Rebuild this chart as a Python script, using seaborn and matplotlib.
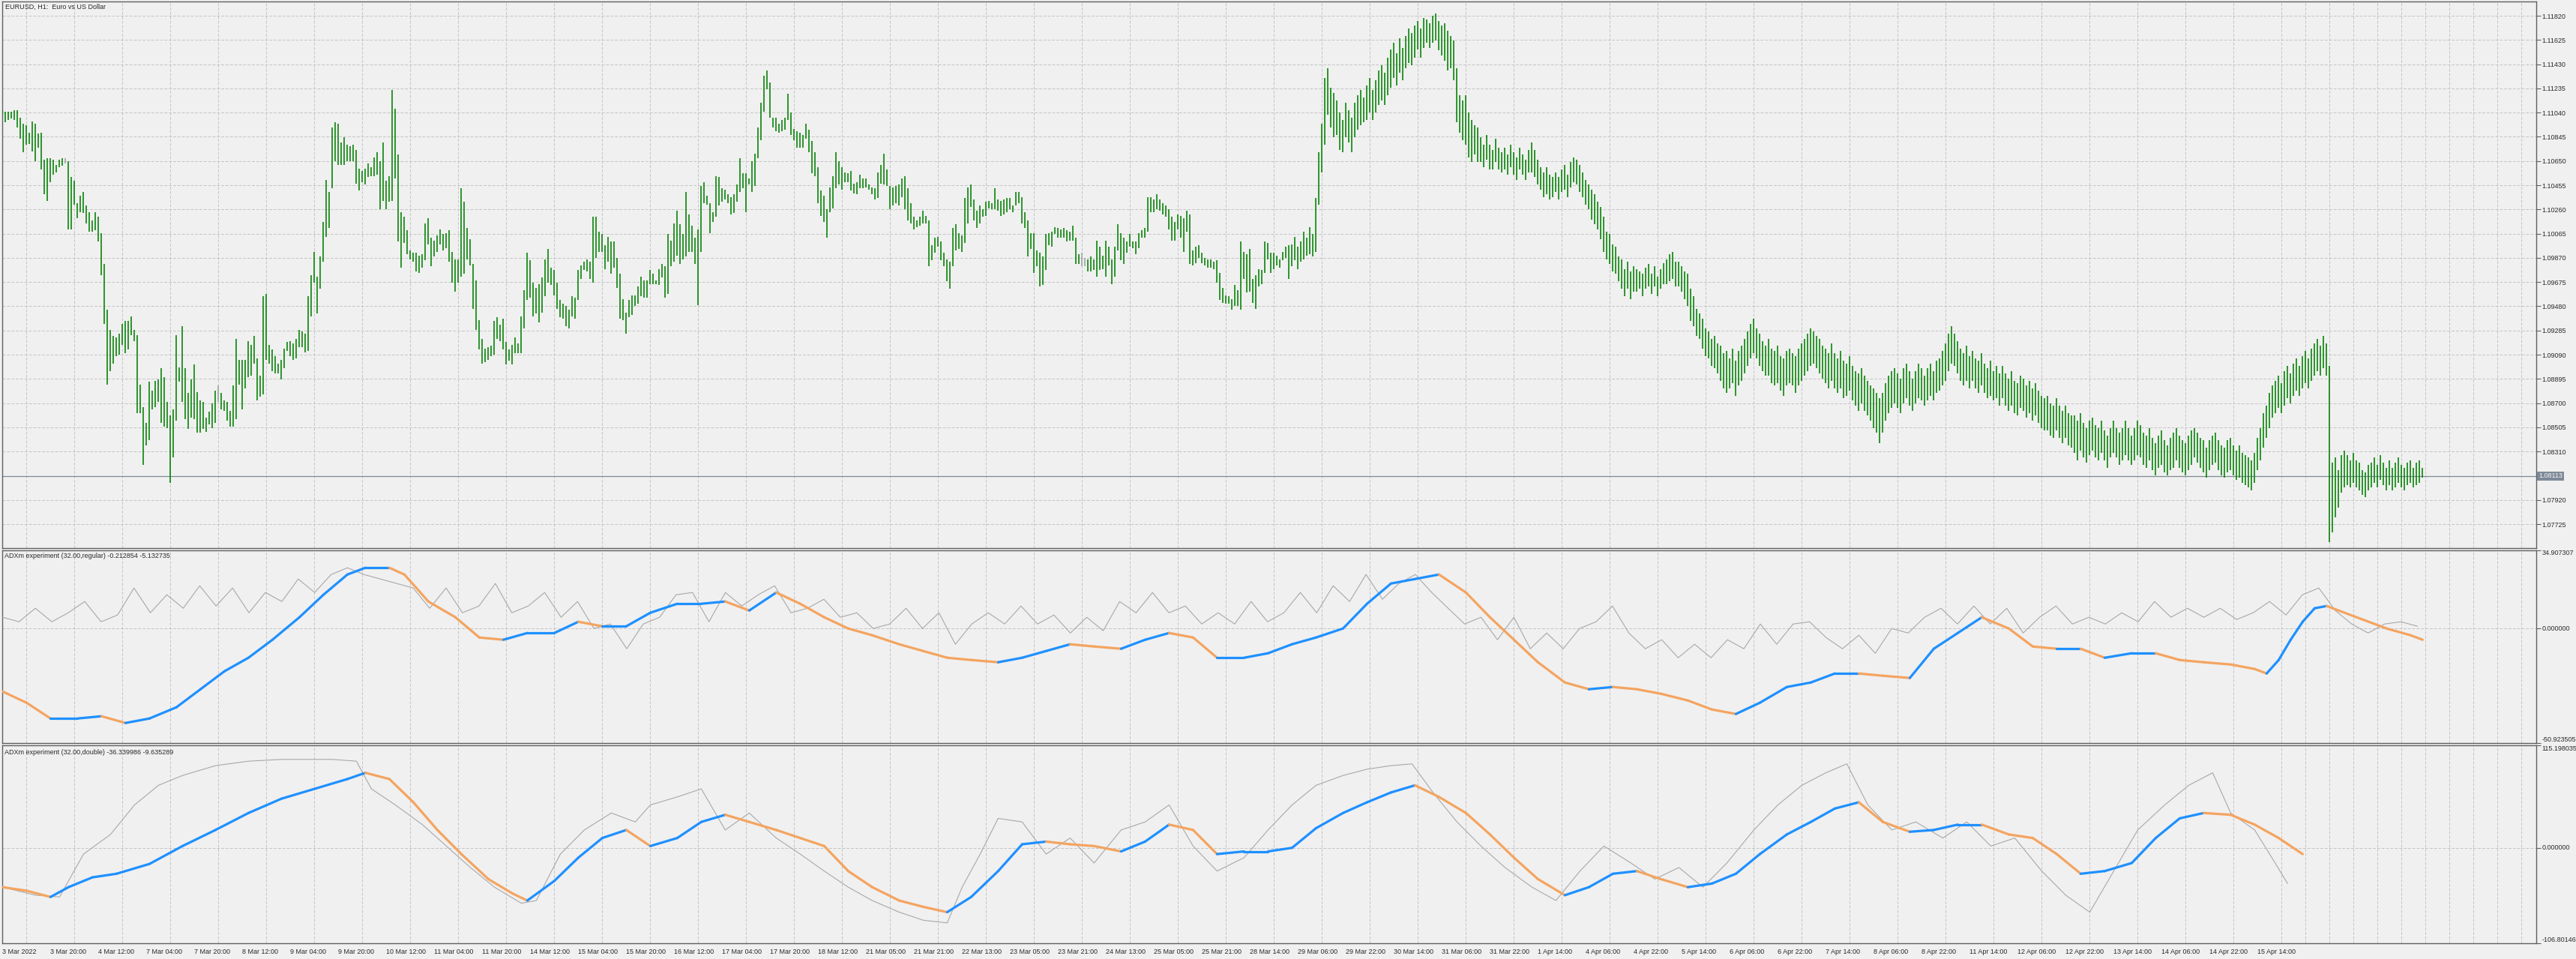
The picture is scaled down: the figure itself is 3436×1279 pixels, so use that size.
import numpy as np
import pandas as pd
import matplotlib
matplotlib.use("Agg")
import matplotlib.pyplot as plt
from matplotlib.collections import LineCollection
from matplotlib.transforms import blended_transform_factory
import seaborn as sns

# ---------------- data ----------------
PIP_BASE = 1.07  # bar highs / lows below are in pips above 1.0700

high_w1 = [406,405,405,405,406,406,400,395,394,388, 397,395,387,388,366,367,367,366,362,366,
           367,367,365,352,349,331,337,340,329,324, 317,324,320,307,282,245,229,224,223,226,
           234,236,236,240,229,225,185,167,154,187, 180,188,189,198,191,171,160,165,225,199,
           232,198,178,189,201,179,172,171,158,163, 170,180,184,178,172,171,164,184,222,205,
           205,205,220,217,224,206,192,256,258,217, 213,208,202,205,214,219,220,218,222,229,
           228,226,256,273,292,272,288]
low_w1 = [402,396,398,399,398,392,383,372,378,379, 373,365,376,358,338,333,348,354,356,360,
          361,363,310,310,330,319,324,323,315,308, 308,309,300,273,234,185,196,202,208,209,
          217,210,213,225,220,162,162,120,136,140, 165,167,171,154,151,150,106,126,156,187,
          171,157,149,158,157,146,146,149,147,153, 150,154,171,165,164,156,151,151,157,185,
          165,182,191,192,202,172,175,177,205,202, 196,194,194,189,198,212,208,205,206,215,
          215,211,212,240,267,242,262]
high_w2 = [316,350,340,392,396,395,380,384,378,377, 378,374,359,357,359,363,360,368,372,365,
           380,349,353,422,407,370,324,320,309,293, 291,291,289,290,315,319,303,301,305,310,
           306,307,309,292,286,286,343,332,311,302, 282,269,237,222,214,215,216,236,239,233,
           238,219,213,217,223,218,240,261,291,285, 267,263,266,271,286,294,279,277,267,253,
           250,248,245,256,255,277,281,284,286,284, 320,320,308,306,297,304,300,300,287,274,
           254,243,253,257,257,264,272,269]
low_w2 = [284,304,311,343,365,362,362,362,365,365, 365,347,341,348,346,352,353,353,354,326,
          333,326,332,333,351,300,279,299,290,286, 284,276,275,279,285,298,280,288,292,298,
          293,295,284,267,260,267,272,274,286,281, 246,229,213,202,203,205,208,209,222,220,
          213,201,204,201,210,210,210,230,253,255, 240,242,235,243,256,267,265,257,246,239,
          238,232,230,240,238,253,270,277,276,270, 267,287,292,292,278,284,274,279,263,238,
          237,226,239,241,248,250,256,255]
high_w3 = [269,277,274,269,278,282,280,306,301,315, 325,314,306,340,322,313,303,310,345,348,
           337,331,324,353,352,343,342,338,336,338, 346,367,355,355,351,365,371,392,412,434,
           438,428,400,400,395,398,400,419,404,391, 389,388,386,395,390,381,372,360,341,337,
           326,344,353,372,365,360,356,355,357,347, 348,354,351,351,346,344,343,356,362,371,
           358,345,344,345,346,351,353,343,331,320, 317,320,325,321,317,297,303,304,300,291,
           286,284,311,314,307,305,335]
low_w3 = [255,266,266,266,265,271,255,258,280,284, 289,282,286,288,292,292,282,249,292,331,
          330,307,316,320,329,332,334,331,322,323, 332,340,343,324,346,340,345,367,382,405,
          423,400,392,389,388,389,390,398,386,382, 376,376,376,383,372,355,353,331,321,316,
          303,324,327,343,346,342,348,348,341,339, 338,343,343,344,342,338,334,335,347,346,
          345,326,329,331,329,336,326,317,315,310, 312,313,315,315,280,285,291,296,285,280,
          268,262,280,293,294,292,299]
high_w4 = [344,346,334,325,329,326,332,333,331,343, 334,333,334,335,335,329,340,340,336,324,
           317,307,307,293,291,288,306,307,308,312, 311,310,311,309,308,313,303,290,291,287,
           286,288,286,301,296,289,301,296,286,296, 314,307,303,300,306,300,300,307,309,311,
           336,336,334,338,334,331,329,326,320,316, 322,321,319,325,322,293,296,297,291,287,
           286,286,284,285,275,263,257,256,254,265, 261,300,292,290,294,270,273,278,277,300,
           299,291,291,289,286,292,296,297]
low_w4 = [315,328,317,311,315,320,321,327,326,326, 325,321,322,324,326,324,329,331,315,311,
          288,294,275,280,264,265,277,297,296,306, 303,303,303,300,301,301,282,282,280,280,
          276,276,277,272,277,278,272,281,266,272, 293,285,282,291,296,295,290,295,303,303,
          308,324,324,326,325,322,320,310,301,301, 310,303,292,308,282,281,283,287,283,281,
          279,279,278,267,253,251,250,250,245,248, 248,245,270,259,260,251,246,264,266,275,
          286,275,278,281,279,285,287,270]
high_w5 = [298,304,296,300,308,303,312,306, 335,372,395, 432,440,424,420,414,
           404,398,412,406,400,412,418,422,416, 426,432,422,430,438,442,436,448,
           455,460,452,464,456,466,472,468, 474,478,472,480,479,476, 482,484,478,474,
           476,470,466,462, 440,418,414, 418,404,398,394,392, 384,378,386,378,374,383,376,372,
           376,370,378,372,368,376,370,366,374, 380,374,366,360,356,360,354,352,
           356,352,358,362,354,364,368,366,362,356,350, 346]
low_w5 = [280,285,278,284,286,289,290,288, 292,330,356, 378,402,392,384,386,
          374,372,384,380,372,384,390,394,396, 398,404,398,404,410,414,410,418,
          424,432,426,436,430,440,444,442, 448,455,448,456,460,456, 460,462,454,450,
          446,438,440,430, 396,388,382, 378,368,364,370,364, 364,360,366,358,358,364,358,356,
          358,354,360,354,350,358,354,350,356, 356,352,346,342,336,338,334,336,
          340,334,340,342,336,344,348,346,340,336,330, 326]
high_w6 = [342,338,332,328, 320,308,306,298,296,288, 286,278,284,276,280,
           278,276,274,279,282,274,280,272,278,283,286, 290,292,284,284,280,276,
           274,262,256,246,242, 238,230,228,222,224,218, 216,210,212,206,214,204,212,216,
           222,228,234,238,230,226,220,216, 222,214,212,216,208,206,212,214,
           210,208,214,218,222,226, 230,228,224,222,216, 214,210,218,210,206,212,204,202,208,
           200,196,194,198,192,188,184,182, 178,174,178,186, 192]
low_w6 = [318,314,310,302, 292,286,282,276,274,268, 262,256,262,254,260,
          260,262,256,262,264,258,264,256,262,266,266, 268,270,264,264,260,254,
          248,236,232,224,222, 214,208,206,200,198,194, 188,182,178,182,186,176,184,188,
          194,200,206,210,206,200,196,192, 192,186,184,186,180,176,184,186,
          184,178,184,188,192,196, 200,202,198,194,190, 186,182,188,182,178,182,174,176,180,
          172,168,164,170,164,160,156,150, 146,138,146,156, 162]
high_w7 = [196,198,194,190,198,202,196,190, 196,202,198,192,198,202,196,204,206,212,218,
           226,232,226,220,214,210, 216,208,212,206,204,210,202,198,
           204,196,200,194,200,194,190,196,188,186,192, 190,184,188,182,186,180,176,174,
           176,170,168,174,168,164,168,162,160, 160,156,162,154,150,156,158,152,
           150,156,148,144,150,156,150,146,150,156,150,144,150,156,
           152,146,144,150,142,138,144,148,140,136,142,146,150,144,140,138,144]
low_w7 = [166,170,166,162,170,174,168,164, 170,174,172,168,172,176,172,178,180,184,188,
          196,202,200,194,188,184, 188,182,188,182,178,184,178,174,
          176,172,174,168,174,168,164,168,162,160,166, 164,158,162,156,160,154,150,148,
          148,144,142,148,142,138,142,136,134, 130,124,132,126,122,128,132,126,
          124,130,124,118,126,130,126,120,124,128,124,120,124,128,
          126,120,118,124,116,112,118,120,114,112,116,118,124,118,114,112,116]
high_w8 = [148,150,146,142,140,134,140,144,146,140,136,134,140,142,136,132,136,130,128,126,124,
           130,142,150,162,168,178,184,
           188,192,186,196,200,194,202,206,200,208,212,206,214,218,222,216,224,218,
           200, 122,126,116,128,132,
           128,124,130,124,122,116,114,120,122,126,120,128,122,118,124,118,122,126,120,118,
           122,124,118,122,124,118]
low_w8 = [120,126,122,118,114,110,116,120,122,116,112,110,114,116,112,108,110,106,104,102,100,
          106,116,124,134,142,150,158,
          162,166,162,168,174,170,176,180,176,182,186,182,188,192,196,192,198,192,
          58, 66,78,86,98,102,
          104,102,106,102,100,96,94,100,102,106,102,108,104,100,104,100,102,106,102,100,
          104,106,102,104,106,110]
gray_bars = [21, 72, 360, 361]

price_ticks = [1.11820, 1.11625, 1.11430, 1.11235, 1.11040, 1.10845, 1.10650, 1.10455,
               1.10260, 1.10065, 1.09870, 1.09675, 1.09480, 1.09285, 1.09090, 1.08895,
               1.08700, 1.08505, 1.08310, 1.07920, 1.07725]
current_price = 1.08113

# indicator 1 (regular): smoothed line samples (bar index, value) and raw line samples
reg_main_bar = [0,8,16,25,33,41,49,58,66,74,82,90,99,107,115,121,129,134,142,151,159,167,175,184,192,
                200,208,216,225,233,241,249,258,266,274,282,290,299,307,315,323,332,340,348,356,364,
                373,381,389,397,405,414,422,430,438,447,455,463,471,479,488,496,504,512,521,529,537,
                545,553,562,570,578,586,595,603,611,619,627,636,644,652,660,669,677,685,693,701,710,
                718,726,734,743,751,755,759,763,767,771,775,779,787,795,803,807]
reg_main_val = [-28,-33,-40,-40,-39,-42,-40,-35,-27,-19,-13,-5,5,15,24,27,27,24,12,5,-4,-5,-2,-2,3,
                1,1,7,11,11,12,8,16,11,5,0,-3,-7,-10,-13,-14,-15,-13,-10,-7,-8,-9,-5,-2,-4,-13,-13,
                -11,-7,-4,0,11,20,22,24,16,5,-5,-15,-24,-27,-26,-27,-29,-32,-36,-38,-33,-26,-24,-20,
                -20,-21,-22,-9,-2,5,0,-8,-9,-9,-13,-11,-11,-14,-15,-16,-18,-20,-14,-5,3,9,10,8,4,0,
                -3,-5]
reg_raw_val = [5,3,9,3,7,12,3,6,18,7,15,9,19,10,18,7,16,12,22,16,24,27,24,22,20,18,9,18,7,10,20,7,10,
               16,5,12,0,2,-9,2,5,15,16,3,16,10,15,19,7,9,13,5,7,0,2,9,0,7,-7,2,7,2,10,2,6,-2,5,-1,12,
               7,16,7,10,2,7,2,12,3,7,16,7,19,12,24,13,20,24,16,9,2,5,-5,5,-9,-2,-9,0,3,10,-2,-9,-5,
               -13,-7,-13,-5,-9,2,-7,2,3,-4,-9,-3,-11,0,-2,5,9,2,10,2,9,-2,5,10,2,5,2,7,3,12,5,9,5,9,
               4,7,12,6,15,18,8,2,-2,2,3,1]
REG_RAW_STEP = 5.478  # bars between raw-line samples

# indicator 2 (double)
dbl_main_bar = [0,8,16,22,30,38,49,60,71,82,93,104,115,121,129,137,145,153,162,170,175,184,192,200,208,
                216,225,233,241,249,258,266,274,282,290,299,307,315,323,332,340,348,356,364,373,381,389,
                397,405,414,422,430,438,447,455,463,471,479,488,496,504,512,521,529,537,545,553,562,570,
                578,586,595,603,611,619,627,636,644,652,660,669,677,685,693,701,710,718,726,734,743,751,
                759,767]
dbl_main_val = [-44,-48,-55,-44,-33,-29,-18,2,20,39,55,66,77,84,77,51,20,-7,-35,-51,-59,-37,-11,11,20,2,
                11,29,37,29,20,11,2,-26,-44,-59,-66,-72,-55,-26,4,7,4,2,-4,7,26,20,-7,-4,-4,0,22,39,51,
                62,70,57,39,15,-11,-35,-53,-44,-29,-26,-35,-44,-40,-29,-7,15,29,44,51,29,18,20,26,26,15,
                11,-7,-29,-26,-17,11,33,39,37,26,11,-7]
dbl_raw_bar = [0,11,19,27,36,44,52,60,71,82,93,110,118,123,131,140,148,156,164,173,178,186,194,203,211,
               216,225,233,241,249,258,266,274,282,290,299,307,315,320,326,332,340,348,356,364,373,381,
               389,397,405,414,422,430,438,447,455,463,470,477,485,493,501,510,518,526,534,543,551,559,
               567,575,584,592,600,608,615,622,630,638,647,655,663,671,680,688,696,704,712,721,729,737,
               743,751,756,762]
dbl_raw_val = [-44,-53,-55,-7,15,48,70,81,92,97,99,99,97,66,48,26,2,-22,-44,-62,-59,-7,20,39,29,48,57,66,
               20,39,11,-7,-26,-44,-59,-72,-81,-84,-44,-7,33,29,-7,11,-17,20,29,48,2,-26,-11,20,48,70,81,
               88,92,94,62,29,2,-22,-44,-59,-26,2,-17,-35,-22,-44,-17,20,48,70,84,94,48,20,29,11,29,2,11,
               -26,-53,-72,-26,20,48,70,84,39,20,-7,-40]

mid_top, mid_bottom = 34.907307, -50.923505
bot_top, bot_bottom = 115.198035, -106.801468

x_labels = ["3 Mar 2022", "3 Mar 20:00", "4 Mar 12:00", "7 Mar 04:00", "7 Mar 20:00", "8 Mar 12:00",
            "9 Mar 04:00", "9 Mar 20:00", "10 Mar 12:00", "11 Mar 04:00", "11 Mar 20:00", "14 Mar 12:00",
            "15 Mar 04:00", "15 Mar 20:00", "16 Mar 12:00", "17 Mar 04:00", "17 Mar 20:00", "18 Mar 12:00",
            "21 Mar 05:00", "21 Mar 21:00", "22 Mar 13:00", "23 Mar 05:00", "23 Mar 21:00", "24 Mar 13:00",
            "25 Mar 05:00", "25 Mar 21:00", "28 Mar 14:00", "29 Mar 06:00", "29 Mar 22:00", "30 Mar 14:00",
            "31 Mar 06:00", "31 Mar 22:00", "1 Apr 14:00", "4 Apr 06:00", "4 Apr 22:00", "5 Apr 14:00",
            "6 Apr 06:00", "6 Apr 22:00", "7 Apr 14:00", "8 Apr 06:00", "8 Apr 22:00", "11 Apr 14:00",
            "12 Apr 06:00", "12 Apr 22:00", "13 Apr 14:00", "14 Apr 06:00", "14 Apr 22:00", "15 Apr 14:00"]
BARS_PER_LABEL = 16
BARS_PER_GRID = 8

title_price = "EURUSD, H1:  Euro vs US Dollar"
title_reg = "ADXm experiment (32.00,regular) -0.212854 -5.132735"
title_dbl = "ADXm experiment (32.00,double) -36.339986 -9.635289"

# ---------------- style ----------------
BG = "#f0f0f0"
GRID = "#c4c4c4"
SPINE = "#606060"
TXT = "#2a2a2a"
BAR_GREEN = "#008000"
BAR_GRAY = "#a0a0a0"
UP = "#1e90ff"
DOWN = "#f4a460"
RAW = "#a8a8a8"
FS = 6.5

sns.set_theme(style="white")
plt.rcParams["font.family"] = ["Liberation Sans", "DejaVu Sans"]
plt.rcParams["axes.facecolor"] = BG

W, H = 3436, 1279
fig = plt.figure(figsize=(W / 100, H / 100), dpi=100, facecolor=BG)


def rect(x0, y0, x1, y1):
    return [x0 / W, 1 - y1 / H, (x1 - x0) / W, (y1 - y0) / H]


ax1 = fig.add_axes(rect(3, 2, 3383, 731))
ax2 = fig.add_axes(rect(3, 733.5, 3383, 991))
ax3 = fig.add_axes(rect(3, 993.5, 3383, 1258))

x_left, x_right = -0.1, 844.9
grid_pos = np.arange(0, 848, BARS_PER_GRID)
label_pos = np.arange(len(x_labels)) * BARS_PER_LABEL

for ax in (ax1, ax2, ax3):
    ax.set_facecolor(BG)
    ax.set_xlim(x_left, x_right)
    for s in ax.spines.values():
        s.set_color(SPINE)
        s.set_linewidth(1.0)
    ax.set_xticks(grid_pos, minor=True)
    ax.grid(which="minor", axis="x", color=GRID, ls=(0, (4, 2)), lw=0.7)
    ax.yaxis.tick_right()
    ax.tick_params(axis="y", direction="out", length=4, width=0.8, color=SPINE,
                   labelsize=FS, labelcolor=TXT, pad=1.5)
    ax.tick_params(axis="x", which="minor", length=0)

for ax in (ax1, ax2):
    ax.set_xticks(label_pos)
    ax.tick_params(axis="x", which="both", length=0, labelbottom=False)

ax3.set_xticks(label_pos)
ax3.set_xticklabels(x_labels)
ax3.tick_params(axis="x", which="major", direction="out", length=3.5, width=0.8, color=SPINE,
                labelsize=FS, labelcolor=TXT, pad=1.5)
for lab in ax3.get_xticklabels():
    lab.set_horizontalalignment("left")

# ---------------- price panel ----------------
high_all = high_w1 + high_w2 + high_w3 + high_w4 + high_w5 + high_w6 + high_w7 + high_w8
low_all = low_w1 + low_w2 + low_w3 + low_w4 + low_w5 + low_w6 + low_w7 + low_w8
n = min(len(high_all), len(low_all))
bars = pd.DataFrame({"i": np.arange(n),
                     "high": PIP_BASE + np.array(high_all[:n]) / 1e4,
                     "low": PIP_BASE + np.array(low_all[:n]) / 1e4})
bar_colors = [BAR_GRAY if i in gray_bars else BAR_GREEN for i in bars["i"]]
ax1.vlines(bars["i"], bars["low"], bars["high"], colors=bar_colors, lw=1.15, zorder=3)

ax1.set_ylim(1.07532, 1.11935)
ax1.set_yticks(price_ticks)
ax1.set_yticklabels([f"{t:.5f}" for t in price_ticks])
ax1.grid(which="major", axis="y", color=GRID, ls=(0, (4, 2)), lw=0.7)
ax1.axhline(current_price, color="#7d8a98", lw=0.9, zorder=2)
tr = blended_transform_factory(ax1.transAxes, ax1.transData)
ax1.text(1.0009, current_price, f"{current_price:.5f}", transform=tr, ha="left", va="center",
         fontsize=FS, color="#f4f4f4", clip_on=False, zorder=10,
         bbox=dict(boxstyle="square,pad=0.18", fc="#7d8a98", ec="none"))


# ---------------- indicator panels ----------------
def colored_line(ax, x, y, lw=2.3):
    x = np.asarray(x, float)
    y = np.asarray(y, float)
    pts = np.column_stack([x, y])
    segs = np.stack([pts[:-1], pts[1:]], axis=1)
    cols = [UP if y[i + 1] >= y[i] else DOWN for i in range(len(y) - 1)]
    lc = LineCollection(segs, colors=cols, linewidths=lw, capstyle="round", joinstyle="round", zorder=4)
    ax.add_collection(lc)


def setup_ind(ax, top, bottom):
    ax.set_ylim(bottom, top)
    ax.set_yticks([bottom, 0.0, top])
    ax.set_yticklabels([f"{bottom:.6f}", "0.000000", f"{top:.6f}"])
    for lab, va in zip(ax.get_yticklabels(), ["bottom", "center", "top"]):
        lab.set_verticalalignment(va)
    ax.grid(which="major", axis="y", color=GRID, ls=(0, (4, 2)), lw=0.7)


reg_raw_bar = np.arange(len(reg_raw_val)) * REG_RAW_STEP
sns.lineplot(x=reg_raw_bar, y=reg_raw_val, ax=ax2, color=RAW, lw=0.8, sort=False, estimator=None,
             zorder=3)
m = min(len(reg_main_bar), len(reg_main_val))
colored_line(ax2, reg_main_bar[:m], reg_main_val[:m])
setup_ind(ax2, mid_top, mid_bottom)

m = min(len(dbl_raw_bar), len(dbl_raw_val))
sns.lineplot(x=dbl_raw_bar[:m], y=dbl_raw_val[:m], ax=ax3, color=RAW, lw=0.8, sort=False,
             estimator=None, zorder=3)
m = min(len(dbl_main_bar), len(dbl_main_val))
colored_line(ax3, dbl_main_bar[:m], dbl_main_val[:m])
setup_ind(ax3, bot_top, bot_bottom)

for ax in (ax1, ax2, ax3):
    ax.set_xlabel("")
    ax.set_ylabel("")

fig.text(7 / W, 1 - 4.5 / H, title_price, ha="left", va="top", fontsize=FS, color=TXT)
fig.text(6 / W, 1 - 737.5 / H, title_reg, ha="left", va="top", fontsize=FS, color=TXT)
fig.text(6 / W, 1 - 998.5 / H, title_dbl, ha="left", va="top", fontsize=FS, color=TXT)

fig.savefig("out.png", dpi=100, facecolor=BG)
